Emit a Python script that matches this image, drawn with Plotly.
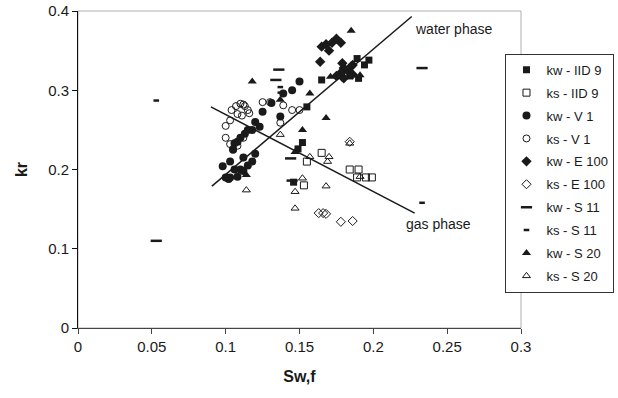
import plotly.graph_objects as go

# ---- data (Sw,f , kr) ----
kw_iid9_x = [0.189, 0.197, 0.194, 0.184, 0.190, 0.165, 0.155, 0.152, 0.149, 0.146]
kw_iid9_y = [0.340, 0.338, 0.332, 0.318, 0.315, 0.313, 0.279, 0.234, 0.226, 0.184]

ks_iid9_x = [0.165, 0.155, 0.153, 0.184, 0.190, 0.189, 0.195, 0.199]
ks_iid9_y = [0.221, 0.210, 0.180, 0.200, 0.200, 0.190, 0.190, 0.190]

kw_v1_x = [0.150, 0.145, 0.139, 0.131, 0.125, 0.137, 0.123, 0.120, 0.118, 0.115,
           0.113, 0.110, 0.108, 0.106, 0.105, 0.112, 0.115, 0.118, 0.120, 0.110,
           0.100, 0.102, 0.103, 0.106, 0.098, 0.103, 0.108, 0.112]
kw_v1_y = [0.311, 0.300, 0.296, 0.284, 0.273, 0.267, 0.254, 0.260, 0.250, 0.250,
           0.245, 0.240, 0.235, 0.233, 0.225, 0.215, 0.205, 0.210, 0.220, 0.200,
           0.190, 0.188, 0.210, 0.200, 0.204, 0.190, 0.191, 0.198]

ks_v1_x = [0.100, 0.104, 0.107, 0.110, 0.113, 0.115, 0.108, 0.111, 0.103, 0.100,
           0.103, 0.105, 0.108, 0.112, 0.116, 0.125, 0.130, 0.139, 0.145, 0.150,
           0.137, 0.112]
ks_v1_y = [0.255, 0.275, 0.280, 0.283, 0.280, 0.275, 0.270, 0.268, 0.262, 0.240,
           0.232, 0.226, 0.230, 0.240, 0.271, 0.285, 0.285, 0.281, 0.275, 0.275,
           0.259, 0.282]

kw_e100_x = [0.165, 0.168, 0.172, 0.175, 0.178, 0.170, 0.180, 0.185, 0.183, 0.178,
             0.175, 0.180, 0.186, 0.164, 0.179, 0.186, 0.179]
kw_e100_y = [0.355, 0.358, 0.360, 0.365, 0.360, 0.350, 0.328, 0.330, 0.325, 0.322,
             0.318, 0.315, 0.320, 0.336, 0.334, 0.332, 0.317]

ks_e100_x = [0.163, 0.166, 0.168, 0.178, 0.186, 0.184]
ks_e100_y = [0.145, 0.145, 0.144, 0.134, 0.135, 0.235]

kw_s11_x = [0.053, 0.233, 0.136, 0.134, 0.144, 0.145]
kw_s11_y = [0.110, 0.328, 0.326, 0.313, 0.214, 0.186]

ks_s11_x = [0.053, 0.233, 0.137, 0.137]
ks_s11_y = [0.287, 0.158, 0.304, 0.297]

kw_s20_x = [0.118, 0.171, 0.191, 0.157, 0.137, 0.168, 0.152, 0.114, 0.147, 0.185]
kw_s20_y = [0.311, 0.317, 0.319, 0.296, 0.288, 0.265, 0.250, 0.193, 0.222, 0.375]

ks_s20_x = [0.114, 0.147, 0.147, 0.152, 0.168, 0.157, 0.170, 0.169, 0.184, 0.137, 0.191]
ks_s20_y = [0.174, 0.151, 0.172, 0.189, 0.179, 0.216, 0.216, 0.210, 0.233, 0.244, 0.191]

water_x = [0.0907, 0.226]
water_y = [0.179, 0.393]
gas_x = [0.090, 0.228]
gas_y = [0.279, 0.145]

FONT = "Liberation Sans, Arial, sans-serif"
INK = "#1a1a1a"

fig = go.Figure()

def add(name, xs, ys, symbol, size, lw=1.0):
    fig.add_trace(go.Scatter(
        x=xs, y=ys, mode="markers", name=name, legendgroup=name,
        marker=dict(symbol=symbol, size=size, color=INK,
                    line=dict(color=INK, width=lw)),
    ))

add("kw - IID 9", kw_iid9_x, kw_iid9_y, "square", 7, 0)
add("ks - IID 9", ks_iid9_x, ks_iid9_y, "square-open", 7, 1)
add("kw - V 1", kw_v1_x, kw_v1_y, "circle", 8, 0)
add("ks - V 1", ks_v1_x, ks_v1_y, "circle-open", 7, 1)
add("kw - E 100", kw_e100_x, kw_e100_y, "diamond", 8, 0)
add("ks - E 100", ks_e100_x, ks_e100_y, "diamond-open", 7, 1)
add("kw - S 11", kw_s11_x, kw_s11_y, "line-ew", 8, 2.5)
add("ks - S 11", ks_s11_x, ks_s11_y, "line-ew", 4, 2.5)
add("kw - S 20", kw_s20_x, kw_s20_y, "triangle-up", 8, 0)
add("ks - S 20", ks_s20_x, ks_s20_y, "triangle-up-open", 7, 1)

fig.add_trace(go.Scatter(x=water_x, y=water_y, mode="lines", showlegend=False,
                         line=dict(color=INK, width=1.5), hoverinfo="skip"))
fig.add_trace(go.Scatter(x=gas_x, y=gas_y, mode="lines", showlegend=False,
                         line=dict(color=INK, width=1.5), hoverinfo="skip"))

fig.add_annotation(x=water_x[1], y=water_y[1], text="water phase", showarrow=False,
                   xanchor="left", yanchor="middle", xshift=1, yshift=-12,
                   font=dict(family=FONT, size=14, color=INK))
fig.add_annotation(x=gas_x[1], y=gas_y[1], text="gas phase", showarrow=False,
                   xanchor="left", yanchor="middle", xshift=-11, yshift=-11,
                   font=dict(family=FONT, size=14, color=INK))

fig.add_shape(type="rect", xref="paper", yref="paper", x0=0, y0=0, x1=1, y1=1,
              line=dict(color="#b0b0b0", width=1), layer="below")

fig.update_layout(
    width=618, height=398,
    margin=dict(l=78, r=97, t=11, b=70, autoexpand=False),
    paper_bgcolor="white", plot_bgcolor="white",
    font=dict(family=FONT, size=15, color=INK),
    showlegend=True,
    legend=dict(x=0.965, y=0.865, xanchor="left", yanchor="top",
                bgcolor="white", bordercolor="#333", borderwidth=1,
                font=dict(family=FONT, size=13, color=INK),
                itemwidth=30, tracegroupgap=3, itemclick=False),
    xaxis=dict(range=[0, 0.3], dtick=0.05, tick0=0, showgrid=False, zeroline=False,
               showline=True, linecolor="#444", linewidth=1,
               ticks="outside", ticklen=5, tickcolor="#444",
               tickfont=dict(size=15),
               title=dict(text="<b>Sw,f</b>", font=dict(size=16), standoff=16)),
    yaxis=dict(range=[0, 0.4], dtick=0.1, tick0=0, showgrid=False, zeroline=False,
               showline=True, linecolor="#111", linewidth=1,
               ticks="outside", ticklen=5, tickcolor="#111",
               tickfont=dict(size=15),
               title=dict(text="<b>kr</b>", font=dict(size=16), standoff=16)),
)

fig.write_html("out.html")
